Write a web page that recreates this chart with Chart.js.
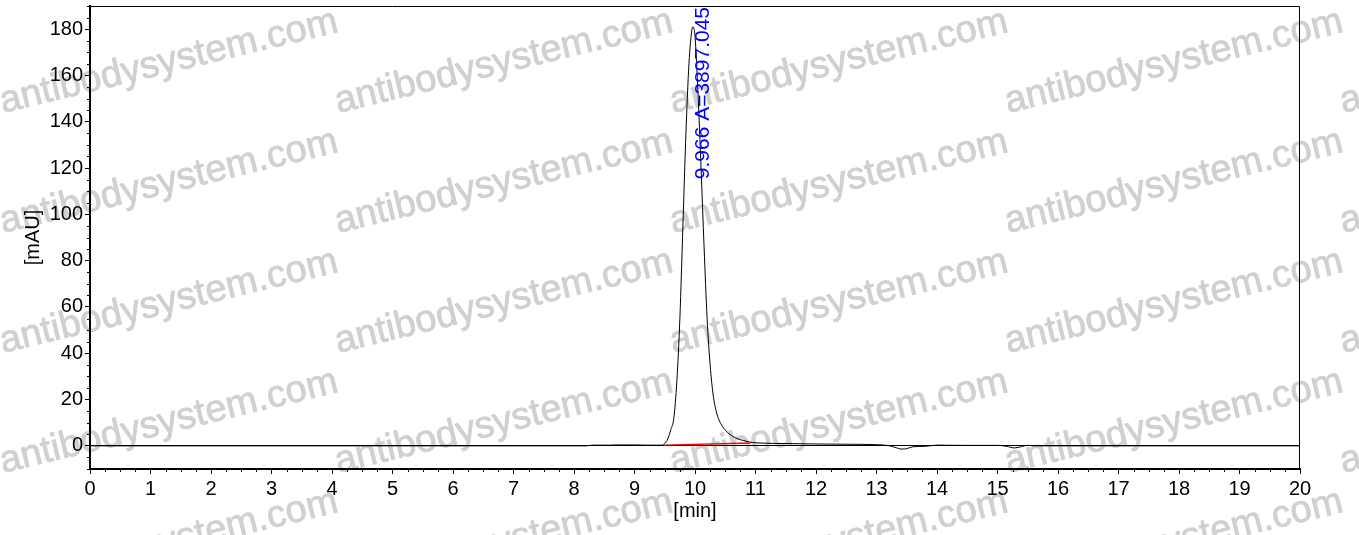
<!DOCTYPE html>
<html><head><meta charset="utf-8">
<script src="https://cdn.jsdelivr.net/npm/chart.js@4"></script>
<style>html,body{margin:0;padding:0;background:#fff;overflow:hidden}#wrap{width:1359px;height:535px;position:relative}</style>
</head><body><div id="wrap"><canvas id="c"></canvas></div>
<script>
// ---- data ----
const timeMin = [0, 8.2, 8.3, 8.6, 8.7, 9.0, 9.2, 9.45, 9.5, 9.55, 9.6, 9.65, 9.7, 9.75, 9.8, 9.85, 9.9, 9.95, 9.966, 10.0, 10.05, 10.1, 10.15, 10.2, 10.25, 10.3, 10.35, 10.4, 10.45, 10.5, 10.6, 10.7, 10.8, 10.9, 11.0, 11.5, 12.0, 12.5, 13.0, 13.2, 13.3, 13.42, 13.5, 13.6, 13.8, 14.0, 14.5, 15.0, 15.15, 15.28, 15.4, 15.5, 15.6, 20];
const signalMAU = [0, 0, 0.3, 0.3, 0.4, 0.4, 0.3, 0.3, 1.0, 3, 7, 12, 28, 55, 95, 135, 165, 180, 181, 177, 152, 120, 86, 55, 35, 22, 15, 11, 8.5, 6.8, 4.5, 3.1, 2.3, 1.7, 1.3, 1.0, 0.8, 0.7, 0.5, 0.1, -0.6, -1.4, -1.2, -0.4, -0.2, 0.3, 0.2, 0.2, -0.2, -0.9, -0.3, 0.2, 0, 0];
const integrationTime = [9.48, 10.92];
const integrationMAU = [0.3, 1.2];
const peakTime = 9.966;
const peakLabel = '9.966 A=3897.045';
const xAxisTitle = '[min]';
const yAxisTitle = '[mAU]';
const xRange = [0, 20];
const yRange = [-10, 190];
const xMajorStep = 1, xMinorStep = 0.25;
const yMajorStep = 20, yMinorStep = 5;
const watermarkText = 'antibodysystem.com';

const FONT = "'Liberation Sans', Arial, sans-serif";

const watermarkPlugin = {
  id: 'watermark',
  beforeDraw(chart) {
    const ctx = chart.ctx;
    ctx.save();
    ctx.font = '38px ' + FONT;
    ctx.fillStyle = 'rgb(208,208,208)';
    ctx.strokeStyle = 'rgb(208,208,208)';
    ctx.lineWidth = 0.8;
    ctx.lineJoin = 'round';
    ctx.textBaseline = 'alphabetic';
    ctx.textAlign = 'left';
    const ang = -13.6 * Math.PI / 180;
    for (let c = 0; c < 5; c++) {
      for (let r = 0; r < 6; r++) {
        ctx.save();
        ctx.translate(3 + c * 335, 113 + r * 120);
        ctx.rotate(ang);
        ctx.fillText(watermarkText, 0, 0);
        ctx.strokeText(watermarkText, 0, 0);
        ctx.restore();
      }
    }
    ctx.restore();
  }
};

const framePlugin = {
  id: 'frame',
  afterDraw(chart) {
    const {ctx, chartArea: a, scales} = chart;
    ctx.save();
    ctx.strokeStyle = '#000';
    ctx.lineWidth = 1;
    ctx.beginPath();
    ctx.moveTo(a.left, a.top + 0.5);
    ctx.lineTo(a.right - 0.5, a.top + 0.5);
    ctx.lineTo(a.right - 0.5, a.bottom);
    ctx.stroke();
    // minor ticks
    ctx.beginPath();
    scales.x.ticks.forEach(t => {
      if (Math.abs(t.value / xMajorStep - Math.round(t.value / xMajorStep)) > 1e-6) {
        const px = Math.round(scales.x.getPixelForValue(t.value)) + 0.5;
        ctx.moveTo(px, a.bottom);
        ctx.lineTo(px, a.bottom + 3);
      }
    });
    scales.y.ticks.forEach(t => {
      if (t.value % yMajorStep !== 0) {
        const py = Math.round(scales.y.getPixelForValue(t.value)) + 0.5;
        ctx.moveTo(a.left - 3, py);
        ctx.lineTo(a.left, py);
      }
    });
    ctx.stroke();
    // peak label
    const x = scales.x.getPixelForValue(peakTime) + 10;
    ctx.translate(x, a.top + 1);
    ctx.rotate(-Math.PI / 2);
    ctx.font = '21px ' + FONT;
    ctx.fillStyle = '#0000ff';
    ctx.textAlign = 'right';
    ctx.textBaseline = 'middle';
    ctx.fillText(peakLabel, 0, 0);
    ctx.restore();
  }
};

const isMajorX = v => Math.abs(v / xMajorStep - Math.round(v / xMajorStep)) < 1e-6;

new Chart(document.getElementById('c'), {
  type: 'line',
  data: {
    datasets: [
      {
        data: integrationTime.map((t, i) => ({x: t, y: integrationMAU[i]})),
        borderColor: '#ff0000', borderWidth: 1.4, pointRadius: 0, fill: false
      },
      {
        data: timeMin.map((t, i) => ({x: t, y: signalMAU[i]})),
        borderColor: '#000000', borderWidth: 1, pointRadius: 0, fill: false,
        cubicInterpolationMode: 'monotone'
      }
    ]
  },
  options: {
    responsive: true, maintainAspectRatio: false, animation: false,
    layout: {padding: {left: 0, top: 6, right: 59, bottom: 0}},
    plugins: {legend: {display: false}, tooltip: {enabled: false}},
    scales: {
      x: {
        type: 'linear', min: xRange[0], max: xRange[1],
        afterFit(s) { s.height = 66; s.paddingLeft = 0; s.paddingRight = 0; },
        ticks: {
          stepSize: xMinorStep, autoSkip: false, maxRotation: 0,
          callback: v => isMajorX(v) ? String(Math.round(v)) : '',
          font: {family: FONT, size: 20}, color: '#000', padding: 3
        },
        grid: {drawOnChartArea: false, tickLength: 5,
          tickColor: c => (c.tick && isMajorX(c.tick.value)) ? '#000' : 'rgba(0,0,0,0)'},
        border: {color: '#000', width: 2},
        title: {display: true, text: xAxisTitle, font: {family: FONT, size: 20}, color: '#000', padding: {top: 0, bottom: 12}}
      },
      y: {
        min: yRange[0], max: yRange[1],
        afterFit(s) { s.width = 90; s.paddingTop = 0; s.paddingBottom = 0; },
        ticks: {
          stepSize: yMinorStep, autoSkip: false,
          callback: v => (v % yMajorStep === 0) ? String(v) : '',
          font: {family: FONT, size: 20}, color: '#000', padding: 2
        },
        grid: {
          tickLength: 5, lineWidth: 1,
          color: c => (c.tick && c.tick.value === 0) ? '#000' : 'rgba(0,0,0,0)',
          tickColor: c => (c.tick && c.tick.value % yMajorStep === 0) ? '#000' : 'rgba(0,0,0,0)'
        },
        border: {color: '#000', width: 2},
        title: {display: true, text: yAxisTitle, font: {family: FONT, size: 20}, color: '#000', padding: {top: 21, bottom: 0}}
      }
    }
  },
  plugins: [watermarkPlugin, framePlugin]
});
</script>
</body></html>
